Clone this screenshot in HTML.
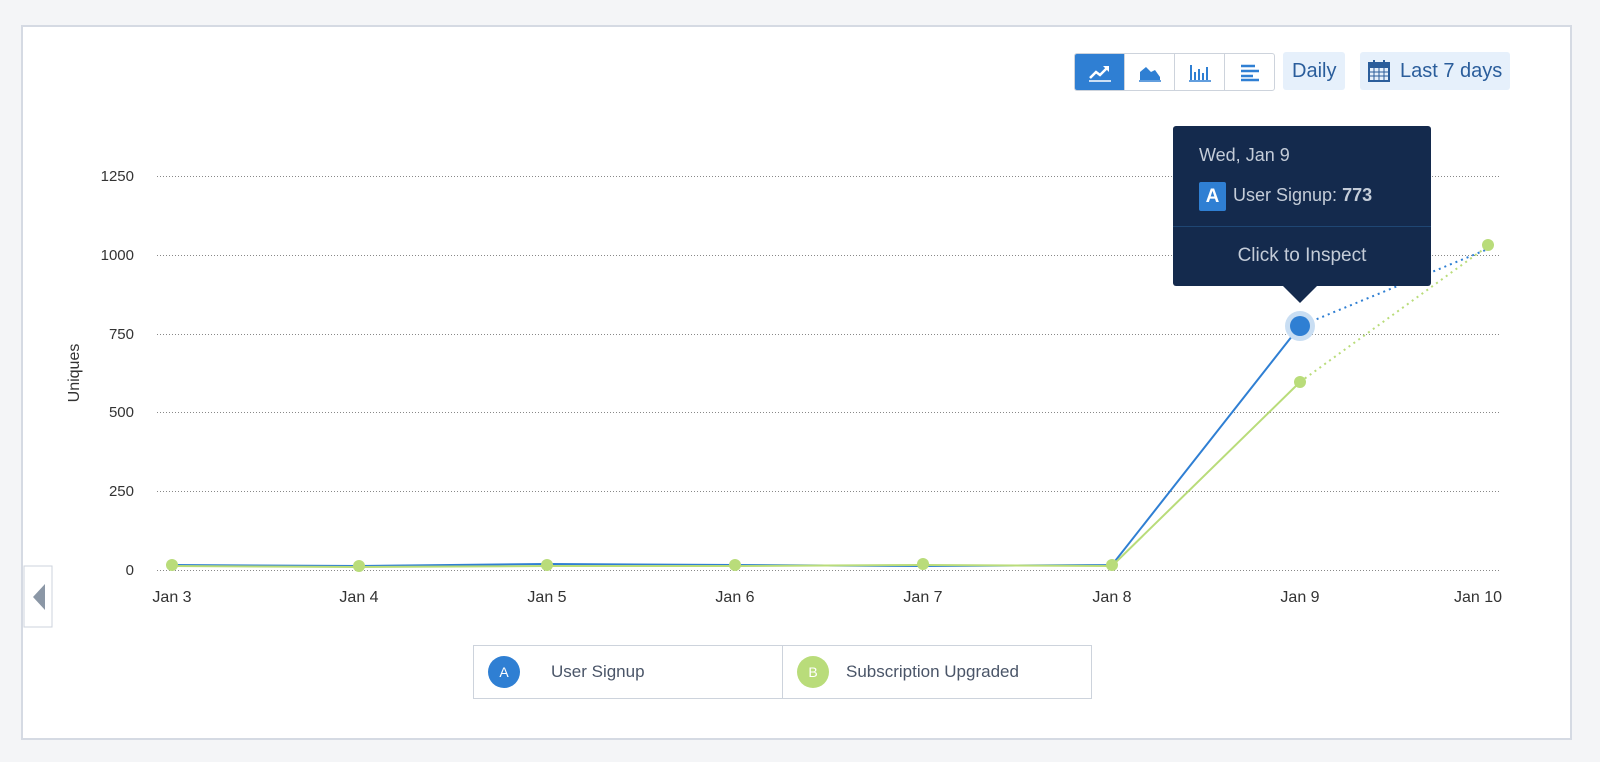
<!DOCTYPE html>
<html><head><meta charset="utf-8"><style>
body{margin:0;width:1600px;height:762px;background:#f4f5f7;font-family:"Liberation Sans",sans-serif;position:relative;overflow:hidden}
.card{position:absolute;left:21px;top:25px;width:1551px;height:715px;background:#fff;border:2px solid #d5dae3;box-sizing:border-box}
.btns{position:absolute;left:1074px;top:53px;height:36px;display:flex;border:1px solid #cdd3dc;border-radius:3px;overflow:hidden}
.btns div{width:49px;height:36px;border-left:1px solid #cdd3dc;display:flex;align-items:center;justify-content:center}
.btns div:first-child{border-left:none;background:#2f7fd3}
.pill{position:absolute;top:52px;height:38px;background:#e6f0fb;color:#2a5d9b;font-size:20px;line-height:38px;border-radius:3px;padding:0 9px}
.tt{position:absolute;left:1173px;top:126px;width:258px;height:160px;background:#142a4d;border-radius:3px;color:#c4ccd8}
.leg{position:absolute;left:473px;top:645px;width:619px;height:54px;border:1px solid #cdd3dc;box-sizing:border-box;display:flex}
.leg div{flex:1;display:flex;align-items:center;font-size:17px;color:#4a5568}
</style></head><body>
<div class="card"></div>
<div class="btns">
<div><svg width="24" height="20"><polyline points="2,16 8,10 12,13 20,5" fill="none" stroke="#fff" stroke-width="2.5"/><path d="M15 4h6v6z" fill="#fff"/><line x1="1" y1="19" x2="23" y2="19" stroke="#fff" stroke-width="1.5"/></svg></div>
<div><svg width="24" height="20"><path d="M2 18 L2 10 L8 5 L13 10 L17 8 L22 15 L22 18Z" fill="#2f7fd3"/><line x1="1" y1="19" x2="23" y2="19" stroke="#2f7fd3" stroke-width="1.5"/></svg></div>
<div><svg width="24" height="20"><g stroke="#2f7fd3" stroke-width="2"><line x1="3" y1="3" x2="3" y2="18"/><line x1="7" y1="10" x2="7" y2="18"/><line x1="11" y1="7" x2="11" y2="18"/><line x1="15" y1="11" x2="15" y2="18"/><line x1="19" y1="5" x2="19" y2="18"/><line x1="1" y1="19" x2="23" y2="19" stroke-width="1.5"/></g></svg></div>
<div><svg width="24" height="20"><g stroke="#2f7fd3" stroke-width="2.5"><line x1="3" y1="4" x2="17" y2="4"/><line x1="3" y1="9" x2="21" y2="9"/><line x1="3" y1="14" x2="15" y2="14"/><line x1="3" y1="18" x2="21" y2="18"/></g></svg></div>
</div>
<div class="pill" style="left:1283px">Daily</div>
<div class="pill" style="left:1360px;padding-left:40px;padding-right:8px"><svg style="position:absolute;left:8px;top:8px" width="22" height="22"><rect x="1" y="3" width="20" height="18" fill="none" stroke="#2a5d9b" stroke-width="2"/><rect x="1" y="3" width="20" height="5" fill="#2a5d9b"/><g stroke="#2a5d9b" stroke-width="1"><line x1="6" y1="8" x2="6" y2="21"/><line x1="11" y1="8" x2="11" y2="21"/><line x1="16" y1="8" x2="16" y2="21"/><line x1="1" y1="12" x2="21" y2="12"/><line x1="1" y1="16" x2="21" y2="16"/></g><rect x="5" y="0" width="2" height="5" fill="#2a5d9b"/><rect x="15" y="0" width="2" height="5" fill="#2a5d9b"/></svg>Last 7 days</div>

<svg style="position:absolute;left:0;top:0" width="1600" height="762">
<g stroke="#888" stroke-width="1" stroke-dasharray="1,2">
<line x1="157" y1="176.5" x2="1500" y2="176.5"/><line x1="157" y1="255.5" x2="1500" y2="255.5"/><line x1="157" y1="334.5" x2="1500" y2="334.5"/><line x1="157" y1="412.5" x2="1500" y2="412.5"/><line x1="157" y1="491.5" x2="1500" y2="491.5"/><line x1="157" y1="570.5" x2="1500" y2="570.5"/>
</g>
<g font-size="15" fill="#333" text-anchor="end" font-family="Liberation Sans">
<text x="134" y="181">1250</text><text x="134" y="260">1000</text><text x="134" y="339">750</text><text x="134" y="417">500</text><text x="134" y="496">250</text><text x="134" y="575">0</text>
</g>
<text transform="translate(79,373) rotate(-90)" font-size="16" fill="#333" text-anchor="middle">Uniques</text>
<g font-size="16" fill="#333" text-anchor="middle">
<text x="172" y="602">Jan 3</text><text x="359" y="602">Jan 4</text><text x="547" y="602">Jan 5</text><text x="735" y="602">Jan 6</text><text x="923" y="602">Jan 7</text><text x="1112" y="602">Jan 8</text><text x="1300" y="602">Jan 9</text><text x="1478" y="602">Jan 10</text>
</g>
<polyline points="172,565 359,566 547,564 735,565 923,566 1112,565 1300,326" fill="none" stroke="#2f7fd3" stroke-width="2"/>
<polyline points="172,566 359,567 547,566 735,566 923,565 1112,566 1300,382" fill="none" stroke="#b9dc7a" stroke-width="2"/>
<line x1="1300" y1="326" x2="1488" y2="249" stroke="#2f7fd3" stroke-width="2" stroke-dasharray="2,4"/>
<line x1="1300" y1="382" x2="1488" y2="246" stroke="#b9dc7a" stroke-width="2" stroke-dasharray="2,4"/>
<g fill="#b9dc7a"><circle cx="172" cy="565" r="6"/><circle cx="359" cy="566" r="6"/><circle cx="547" cy="565" r="6"/><circle cx="735" cy="565" r="6"/><circle cx="923" cy="564" r="6"/><circle cx="1112" cy="565" r="6"/><circle cx="1300" cy="382" r="6"/><circle cx="1488" cy="245" r="6"/></g>
<circle cx="1300" cy="326" r="15" fill="#c9def3"/><circle cx="1300" cy="326" r="10" fill="#2f7fd3"/>
<path d="M1283 286 L1300 303 L1317 286Z" fill="#142a4d"/>
<rect x="24" y="566" width="28" height="61" fill="#fff" stroke="#cdd3dc"/>
<path d="M45 584 L33 597 L45 610Z" fill="#8b97a6"/>
</svg>

<div class="tt">
<div style="position:absolute;left:26px;top:19px;font-size:18px">Wed, Jan 9</div>
<div style="position:absolute;left:26px;top:56px;width:27px;height:29px;background:#2f7fd3;border-radius:2px;color:#fff;font-size:19px;font-weight:bold;text-align:center;line-height:29px">A</div>
<div style="position:absolute;left:60px;top:59px;font-size:18px">User Signup: <b>773</b></div>
<div style="position:absolute;left:0;top:100px;width:258px;border-top:1px solid #1f4673"></div>
<div style="position:absolute;left:0;top:119px;width:258px;text-align:center;font-size:19px">Click to Inspect</div>
</div>

<div class="leg">
<div style="border-right:1px solid #cdd3dc"><span style="margin-left:14px;width:32px;height:32px;border-radius:50%;background:#2f7fd3;color:#fff;font-size:14px;display:inline-flex;align-items:center;justify-content:center">A</span><span style="margin-left:31px">User Signup</span></div>
<div><span style="margin-left:14px;width:32px;height:32px;border-radius:50%;background:#b9dc7a;color:#fff;font-size:14px;display:inline-flex;align-items:center;justify-content:center">B</span><span style="margin-left:17px">Subscription Upgraded</span></div>
</div>
</body></html>
